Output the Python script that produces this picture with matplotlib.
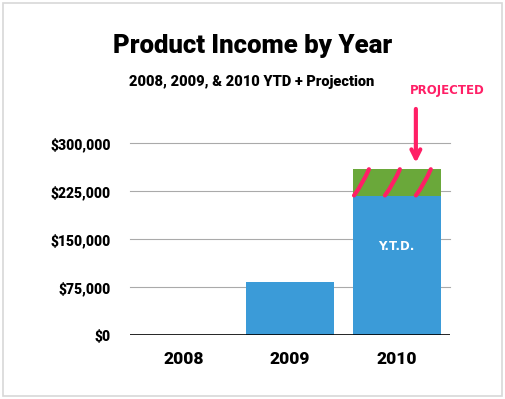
import matplotlib
matplotlib.use("Agg")
import matplotlib.pyplot as plt
from matplotlib.patches import Rectangle, PathPatch
from matplotlib.path import Path

# income in $ per year
years = ["2008", "2009", "2010"]
ytd = [0, 83000, 217000]
projected = [0, 0, 43000]
yticks = [0, 75000, 150000, 225000, 300000]
ytick_labels = ["$0", "$75,000", "$150,000", "$225,000", "$300,000"]

blue = "#3b9bd8"
green = "#6aa83a"
pink = "#ff1f66"

cond = ["Roboto", "DejaVu Sans"]

fig = plt.figure(figsize=(5.05, 3.99), dpi=100)
fig.patches.append(Rectangle((3/505, 3/399), 499/505, 393/399, transform=fig.transFigure,
                             fill=False, edgecolor="#d8d8d8", lw=1.2))

ax = fig.add_axes([130/505, (399-335.3)/399, 320/505, 192/399])
x = range(len(years))
w = 0.825
ax.bar(x, ytd, width=w, color=blue, zorder=3, clip_on=False)
ax.bar(x, projected, width=w, bottom=ytd, color=green, zorder=3, clip_on=False)

ax.set_xlim(-0.5, 2.5)
ax.set_ylim(0, 300000)
for v in yticks[1:]:
    ax.axhline(v, color="#aaaaaa", lw=0.8, zorder=1, clip_on=False)
ax.axhline(0, color="black", lw=1.2, zorder=4)
for s in ax.spines.values():
    s.set_visible(False)
ax.set_yticks(yticks)
ax.set_yticklabels(ytick_labels, family=cond, weight="heavy", fontsize=10)
ax.set_xticks(list(x))
ax.set_xticklabels(years, family=cond, weight="heavy", fontsize=12.5)
ax.tick_params(length=0)
ax.tick_params(axis="y", pad=14)
ax.tick_params(axis="x", pad=11)

# slashes across the projected part
i = 2
lo, hi = ytd[i], ytd[i] + projected[i]
for dx in [-0.4, -0.11, 0.18]:
    x0 = i + dx
    verts = [(x0, lo + 1500), (x0 + 0.08, lo + 0.45 * (hi - lo)),
             (x0 + 0.14, hi - 500)]
    p = Path(verts, [Path.MOVETO, Path.CURVE3, Path.CURVE3])
    ax.add_patch(PathPatch(p, fill=False, edgecolor=pink, lw=3,
                           capstyle="round", zorder=5, clip_on=False))

# arrow and label
ax_x = i + 0.18
ax.annotate("", xy=(ax_x, hi + 5000), xytext=(ax_x, hi + 98000),
            arrowprops=dict(arrowstyle="->", color=pink, lw=3, mutation_scale=16,
                            capstyle="round", joinstyle="round"),
            annotation_clip=False)
ax.text(i + 0.47, hi + 123000, "PROJECTED", color=pink, fontsize=8.5,
        weight="bold", ha="center", va="center", family="DejaVu Sans")
ax.text(i, ytd[i] / 2 + 30000, "Y.T.D.", color="white", fontsize=8.5,
        weight="bold", ha="center", va="center", family="DejaVu Sans")

fig.text(253/505, 1 - 46/399, "Product Income by Year", ha="center", va="center",
         family=cond, weight="heavy", fontsize=18.5)
fig.text(252/505, 1 - 82/399, "2008, 2009, & 2010 YTD + Projection", ha="center",
         va="center", family=cond, weight="heavy", fontsize=10.5)

fig.savefig("out.png", dpi=100)
